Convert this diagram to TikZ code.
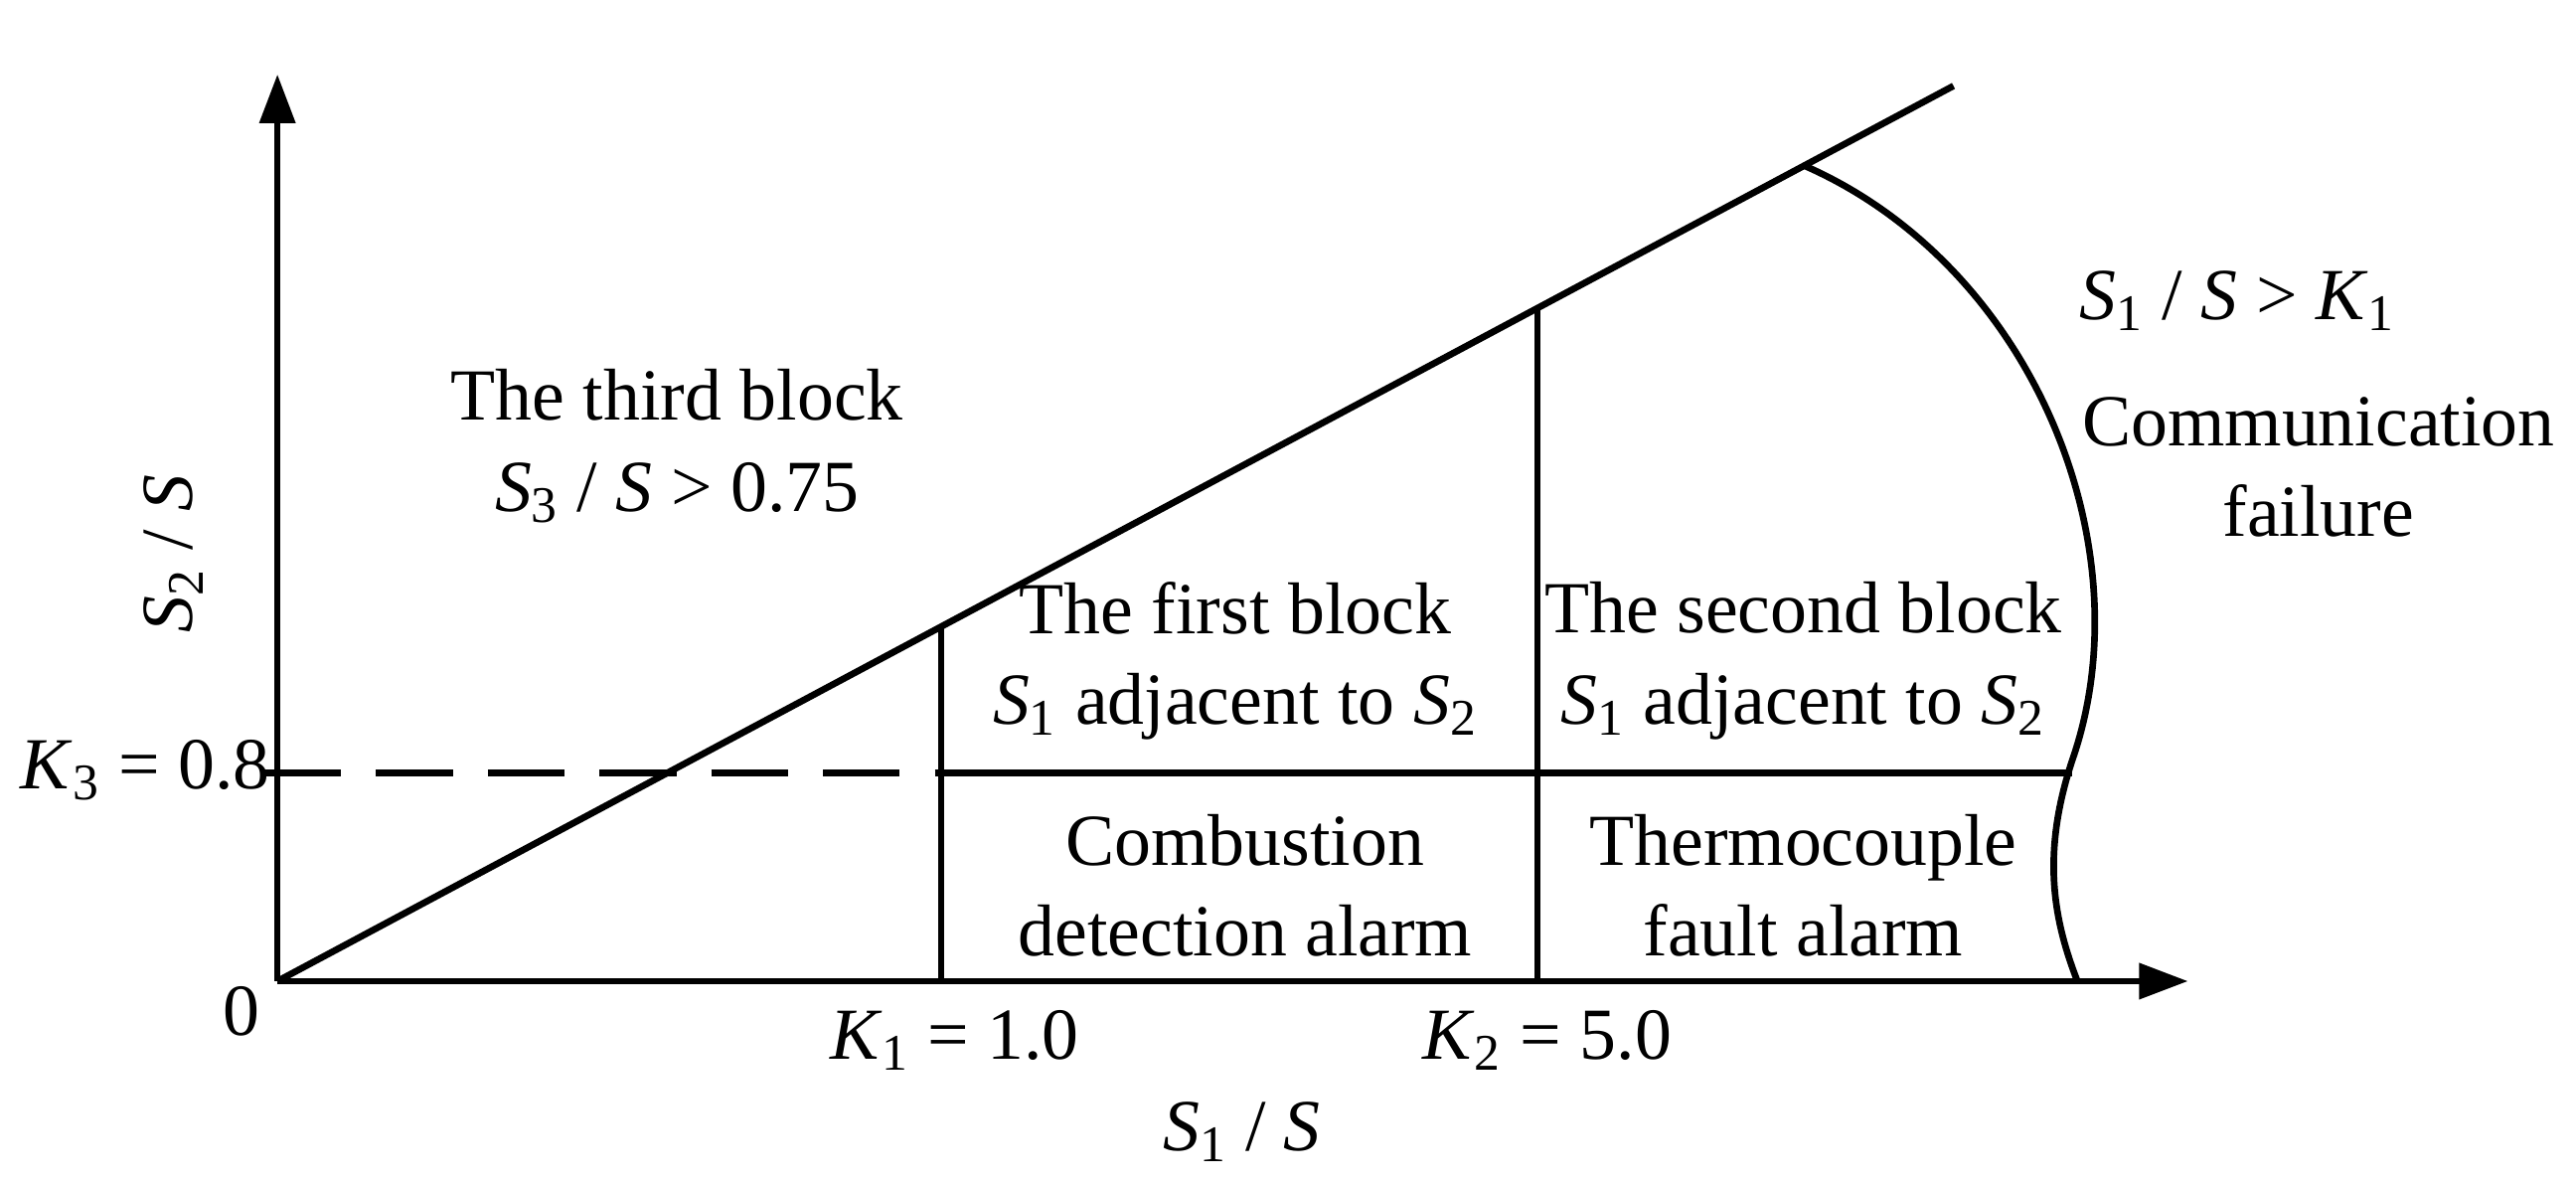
\documentclass[tikz,border=0pt]{standalone}
\usepackage{fontspec}
\setmainfont{Liberation Serif}
\usetikzlibrary{arrows.meta}
\newcommand{\vr}[2]{\textit{#1}\textsubscript{#2}}
\begin{document}
\begin{tikzpicture}[x=0.016615cm, y=-0.016615cm,
    every node/.style={font=\fontsize{21}{26}\selectfont, align=center},
    line/.style={line width=1.9pt}]
    \useasboundingbox (0,0) rectangle (1560,717);
    \coordinate (O) at (168,594);
    \coordinate (Y) at (168,45);
    \coordinate (X) at (1325,594);
    \coordinate (L) at (1183,52);
    \coordinate (A) at (570,594);
    \coordinate (Atop) at (570,380);
    \coordinate (B) at (931,594);
    \coordinate (Btop) at (931,187);
    \coordinate (D0) at (160,468);
    \coordinate (D1) at (570,468);
    \coordinate (D2) at (1255,468);
    \coordinate (C0) at (1092,100);
    \coordinate (C1) at (1258,594);

    \draw [line, -{Triangle[length=14pt, width=10pt]}] (O) -- (Y);
    \draw [line, -{Triangle[length=14pt, width=10pt]}] (O) -- (X);
    \draw [line] (O) -- (L);
    \draw [line] (A) -- (Atop);
    \draw [line] (B) -- (Btop);
    \draw [line, dash pattern=on 22pt off 10pt] (D0) -- (D1);
    \draw [line] (D1) -- (D2);
    \draw [line] (C0) .. controls (1230,160) and (1300,330) .. (1255,460)
        .. controls (1235,520) and (1245,560) .. (C1);

    \node (zero) at (146,612) {0};
    \node (k3) at (88,466) {\vr{K}{3} = 0.8};
    \node (k1) at (578,630) {\vr{K}{1} = 1.0};
    \node (k2) at (937,630) {\vr{K}{2} = 5.0};
    \node (xl) at (752,685) {\vr{S}{1} / \textit{S}};
    \node [rotate=90] (yl) at (105,335) {\vr{S}{2} / \textit{S}};
    \node (third) at (410,270) {The third block\\\vr{S}{3} / \textit{S} > 0.75};
    \node (first) at (748,400) {The first block\\\vr{S}{1} adjacent to \vr{S}{2}};
    \node (second) at (1092,400) {The second block\\\vr{S}{1} adjacent to \vr{S}{2}};
    \node (comb) at (754,536) {Combustion\\detection alarm};
    \node (thermo) at (1092,536) {Thermocouple\\fault alarm};
    \node (k1r) at (1355,182) {\vr{S}{1} / \textit{S} > \vr{K}{1}};
    \node (comm) at (1404,283) {Communication\\failure};
\end{tikzpicture}
\end{document}
